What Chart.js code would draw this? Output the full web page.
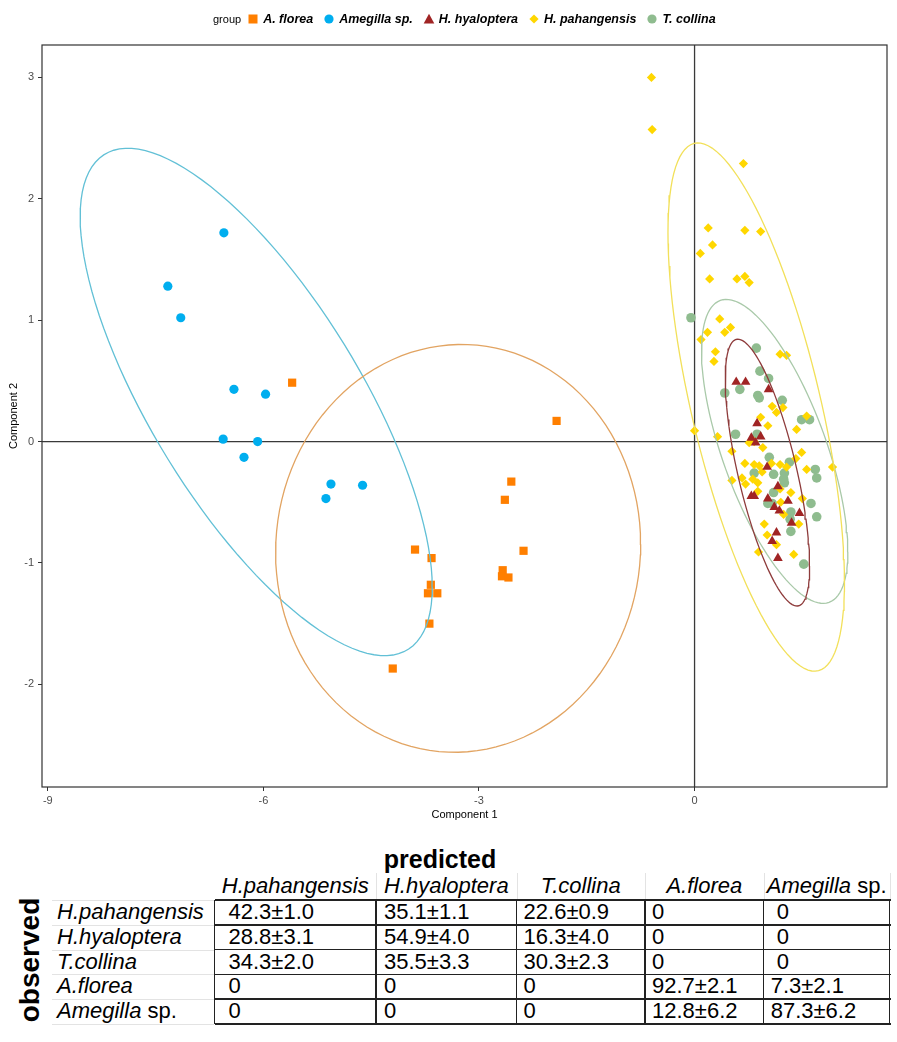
<!DOCTYPE html>
<html><head><meta charset="utf-8">
<script src="https://cdn.jsdelivr.net/npm/chart.js@4/dist/chart.umd.min.js"></script>
<style>
html,body{margin:0;padding:0;background:#fff;}
body{width:897px;height:1042px;position:relative;overflow:hidden;font-family:"Liberation Sans",Arial,sans-serif;color:#000;}
#chartWrap{position:absolute;left:0;top:0;width:897px;height:830px;}
#legend{position:absolute;top:10px;left:213px;height:18px;display:flex;align-items:center;white-space:nowrap;}
#legend .ttl{font-size:11px;margin-right:6px;}
#legend .it{display:flex;align-items:center;margin-right:10px;}
#legend .it span{font-size:12.5px;font-weight:bold;font-style:italic;margin-left:4px;}
#legend svg{display:block;}
.abs{position:absolute;white-space:nowrap;}
#predicted{font-weight:bold;font-size:25px;left:440px;top:859px;transform:translate(-50%,-50%);}
#observed{font-weight:bold;font-size:28px;left:30px;top:960px;transform:translate(-50%,-50%) rotate(-90deg);}
.hdr{font-size:22px;font-style:italic;text-align:center;}
.rl{font-size:22px;font-style:italic;}
.cell{font-size:22px;}
.ln{position:absolute;background:#222;}
.fl{position:absolute;background:#e3e3e3;}
</style>
</head><body>
<div id="chartWrap"><canvas id="c"></canvas></div>
<div id="legend"></div>
<div id="table"></div>
<script>
// ---------- data ----------
const xTicks = [-9, -6, -3, 0];
const yTicks = [-2, -1, 0, 1, 2, 3];
const groupNames = ['A. florea', 'Amegilla sp.', 'H. hyaloptera', 'H. pahangensis', 'T. collina'];

const afloreaX = [-5.60,-1.92,-2.55,-2.64,-3.89,-3.66,-2.38,-2.67,-2.68,-2.59,-3.67,-3.71,-3.58,-3.69,-4.20];
const afloreaY = [0.485,0.17,-0.33,-0.48,-0.89,-0.96,-0.90,-1.06,-1.11,-1.12,-1.18,-1.25,-1.25,-1.50,-1.87];

const amegillaX = [-6.55,-7.33,-7.15,-6.41,-5.97,-6.56,-6.08,-6.27,-5.06,-5.13,-4.62];
const amegillaY = [1.72,1.28,1.02,0.43,0.39,0.02,0.00,-0.13,-0.35,-0.47,-0.36];

const hyalopteraX = [0.58,0.71,1.03,0.87,0.79,0.92,0.85,1.01,1.16,0.79,0.83,1.02,1.11,1.18,1.30,1.46,1.35,1.14,1.08,1.16];
const hyalopteraY = [0.49,0.49,0.43,0.15,0.03,0.04,-0.01,-0.21,-0.37,-0.45,-0.45,-0.47,-0.54,-0.57,-0.49,-0.59,-0.67,-0.75,-0.82,-0.96];

const pahangensisX = [-0.60,-0.59,0.68,0.19,0.70,0.92,0.25,0.08,0.21,0.59,0.70,0.76,0.35,0.18,0.50,0.42,0.09,0.29,0.27,1.19,1.28,1.08,1.23,1.14,0.92,1.02,1.56,1.42,0.00,0.32,0.76,0.83,0.95,0.52,1.49,1.41,0.70,0.83,0.90,1.07,1.19,1.28,1.92,1.56,0.94,0.52,0.66,0.81,0.88,0.71,1.19,1.34,0.88,1.50,1.20,1.24,0.97,1.45,1.01,1.14,0.89,1.38];
const pahangensisY = [3.00,2.57,2.29,1.76,1.74,1.73,1.62,1.55,1.34,1.34,1.36,1.31,1.01,0.90,0.94,0.90,0.84,0.74,0.66,0.72,0.71,0.29,0.28,0.24,0.20,0.13,0.21,0.10,0.09,0.04,-0.01,0.00,-0.05,-0.08,-0.09,-0.14,-0.18,-0.19,-0.20,-0.18,-0.19,-0.21,-0.21,-0.23,-0.25,-0.32,-0.30,-0.31,-0.34,-0.35,-0.39,-0.42,-0.41,-0.47,-0.50,-0.60,-0.68,-0.68,-0.77,-0.85,-0.91,-0.93];

const collinaX = [-0.05,0.86,0.91,1.03,0.42,0.63,0.88,0.90,1.22,1.49,1.60,0.57,0.87,1.04,1.32,1.68,1.70,0.83,1.10,1.25,1.24,1.25,1.10,1.02,1.08,1.62,1.34,1.33,1.70,1.34,1.52];
const collinaY = [1.02,0.77,0.58,0.52,0.40,0.43,0.38,0.36,0.34,0.18,0.18,0.06,0.06,-0.13,-0.17,-0.23,-0.30,-0.26,-0.27,-0.26,-0.31,-0.34,-0.42,-0.51,-0.51,-0.51,-0.58,-0.64,-0.62,-0.74,-1.01];

// ellipse parameters per group (centre, half-extent in x and y, correlation of extremes)
const ellipseCX  = [-3.29, -6.10, 1.014, 0.858, 1.115];
const ellipseCY  = [-0.88, 0.326, -0.256, 0.284, -0.081];
const ellipseRX  = [2.54, 2.45, 0.587, 1.228, 1.018];
const ellipseRY  = [1.68, 2.09, 1.099, 2.176, 1.252];
const ellipseCos = [0.02, -0.73, -0.70, -0.66, -0.66];

// table
const predictedCols = ['H.pahangensis','H.hyaloptera','T.collina','A.florea','Amegilla|sp.'];
const observedRows  = ['H.pahangensis','H.hyaloptera','T.collina','A.florea','Amegilla|sp.'];
const cellValues = [
  ['42.3±1.0','35.1±1.1','22.6±0.9','0','0'],
  ['28.8±3.1','54.9±4.0','16.3±4.0','0','0'],
  ['34.3±2.0','35.5±3.3','30.3±2.3','0','0'],
  ['0','0','0','92.7±2.1','7.3±2.1'],
  ['0','0','0','12.8±6.2','87.3±6.2']
];

// ---------- styles ----------
const pointColors = ['#FF7F00','#00AEEF','#A02424','#FFD700','#8FBC8F'];
const ellipseColors = ['#E2A462','#62C0D6','#8E3B3B','#F2E05A','#A9C9A9'];
const pointStyles = ['rect','circle','triangle','rectRot','circle'];
const pointRadii = [5.8,4.6,5.6,4.6,4.8];

const xs = [afloreaX, amegillaX, hyalopteraX, pahangensisX, collinaX];
const ys = [afloreaY, amegillaY, hyalopteraY, pahangensisY, collinaY];

function ellipsePts(i){
  const phi = Math.acos(ellipseCos[i]);
  const pts = [];
  for (let d = 0; d <= 360; d += 3) {
    const t = d * Math.PI / 180;
    pts.push({x: ellipseCX[i] + ellipseRX[i]*Math.cos(t), y: ellipseCY[i] + ellipseRY[i]*Math.cos(t - phi)});
  }
  return pts;
}

const datasets = [];
groupNames.forEach((g,i)=>{
  datasets.push({label:g+' ellipse', data:ellipsePts(i), showLine:true, fill:false,
    borderColor:ellipseColors[i], borderWidth:1.3, pointRadius:0, pointHoverRadius:0, tension:0, order:0});
});
groupNames.forEach((g,i)=>{
  datasets.push({label:g, data:xs[i].map((x,k)=>({x, y:ys[i][k]})), showLine:false,
    backgroundColor:pointColors[i], borderColor:pointColors[i], borderWidth:0,
    pointStyle:pointStyles[i], pointRadius:pointRadii[i], pointHoverRadius:pointRadii[i], order:1});
});

const framePlugin = {
  id:'frame',
  beforeDatasetsDraw(chart){
    const {ctx, chartArea:a, scales:{x,y}} = chart;
    ctx.save();
    ctx.strokeStyle = '#3a3a3a'; ctx.lineWidth = 1.3;
    const px = x.getPixelForValue(0), py = y.getPixelForValue(0);
    ctx.beginPath(); ctx.moveTo(px, a.top); ctx.lineTo(px, a.bottom); ctx.stroke();
    ctx.beginPath(); ctx.moveTo(a.left, py); ctx.lineTo(a.right, py); ctx.stroke();
    ctx.restore();
  },
  afterDraw(chart){
    const {ctx, chartArea:a} = chart;
    ctx.save(); ctx.strokeStyle = '#333'; ctx.lineWidth = 1.2;
    ctx.strokeRect(a.left, a.top, a.right-a.left, a.bottom-a.top);
    ctx.restore();
  }
};

const tickFont = {family:'"Liberation Sans", Arial, sans-serif', size:11};
new Chart(document.getElementById('c'), {
  type:'scatter',
  data:{datasets},
  options:{
    responsive:true, maintainAspectRatio:false, animation:false,
    layout:{padding:{top:45, right:10, left:0, bottom:0}},
    plugins:{legend:{display:false}, tooltip:{enabled:false}},
    scales:{
      x:{type:'linear', min:-9.081, max:2.678,
        afterBuildTicks:s=>{ s.ticks = xTicks.map(v=>({value:v})); },
        afterFit:s=>{ s.height = 43; },
        grid:{drawOnChartArea:false, drawTicks:true, tickLength:4, tickColor:'#333', color:'#333'},
        border:{display:false},
        ticks:{color:'#4d4d4d', font:tickFont, padding:3, maxRotation:0},
        title:{display:true, text:'Component 1', color:'#000', font:tickFont, padding:{top:0,bottom:8}}
      },
      y:{type:'linear', min:-2.846, max:3.267,
        afterBuildTicks:s=>{ s.ticks = yTicks.map(v=>({value:v})); },
        afterFit:s=>{ s.width = 42; },
        grid:{drawOnChartArea:false, drawTicks:true, tickLength:4, tickColor:'#333', color:'#333'},
        border:{display:false},
        ticks:{color:'#4d4d4d', font:tickFont, padding:4},
        title:{display:true, text:'Component 2', color:'#000', font:tickFont, padding:{top:7,bottom:0}}
      }
    }
  },
  plugins:[framePlugin]
});

// ---------- legend ----------
function markerSVG(i){
  const c = pointColors[i];
  let s = '';
  if (pointStyles[i]==='rect') s = `<rect x="1.5" y="1.5" width="9" height="9" fill="${c}"/>`;
  else if (pointStyles[i]==='circle') s = `<circle cx="6" cy="6" r="4.6" fill="${c}"/>`;
  else if (pointStyles[i]==='triangle') s = `<polygon points="6,0.8 11.3,10.5 0.7,10.5" fill="${c}"/>`;
  else s = `<polygon points="6,1.4 10.6,6 6,10.6 1.4,6" fill="${c}"/>`;
  return `<svg width="12" height="12" viewBox="0 0 12 12">${s}</svg>`;
}
const lg = document.getElementById('legend');
lg.innerHTML = '<span class="ttl">group</span>' + groupNames.map((g,i)=>`<div class="it">${markerSVG(i)}<span>${g}</span></div>`).join('');

// ---------- table ----------
const colEdges = [214.5, 376, 516.6, 645, 763.7, 889.6];
const rowTop = 900, rowH = 24.8, hdrY = 886;
const cellPad = [14, 8, 7, 7, 7];
let html = '<div id="predicted" class="abs">predicted</div><div id="observed" class="abs">observed</div>';
function fmtName(n){ const p = n.split('|'); return p.length>1 ? `<i>${p[0]}</i><span style="font-style:normal"> ${p[1]}</span>` : n; }
predictedCols.forEach((h,j)=>{
  const l = colEdges[j], w = colEdges[j+1]-colEdges[j];
  html += `<div class="abs hdr" style="left:${l}px;width:${w}px;top:${hdrY-13}px;line-height:26px">${fmtName(h)}</div>`;
  if (j>0) html += `<div class="fl" style="left:${l}px;top:873px;width:1px;height:27px"></div>`;
});
html += `<div class="fl" style="left:${colEdges[5]}px;top:873px;width:1px;height:27px"></div>`;
observedRows.forEach((r,i)=>{
  const t = rowTop + i*rowH;
  html += `<div class="abs rl" style="left:57px;top:${t}px;line-height:${rowH}px">${fmtName(r)}</div>`;
  html += `<div class="fl" style="left:52px;top:${t}px;width:162px;height:1px"></div>`;
  cellValues[i].forEach((v,j)=>{
    const pad = cellPad[j] + (j===4 && v==='0' ? 6 : 0);
    html += `<div class="abs cell" style="left:${colEdges[j]+pad}px;top:${t}px;line-height:${rowH}px">${v}</div>`;
  });
});
html += `<div class="fl" style="left:52px;top:${rowTop+5*rowH}px;width:162px;height:1px"></div>`;
for (let i=0;i<=5;i++) html += `<div class="ln" style="left:${colEdges[0]}px;top:${rowTop+i*rowH-0.75}px;width:${colEdges[5]-colEdges[0]+1.5}px;height:1.5px"></div>`;
colEdges.forEach(x=>{ html += `<div class="ln" style="left:${x-0.75}px;top:${rowTop}px;width:1.5px;height:${5*rowH}px"></div>`; });
document.getElementById('table').innerHTML = html;
</script>
</body></html>
